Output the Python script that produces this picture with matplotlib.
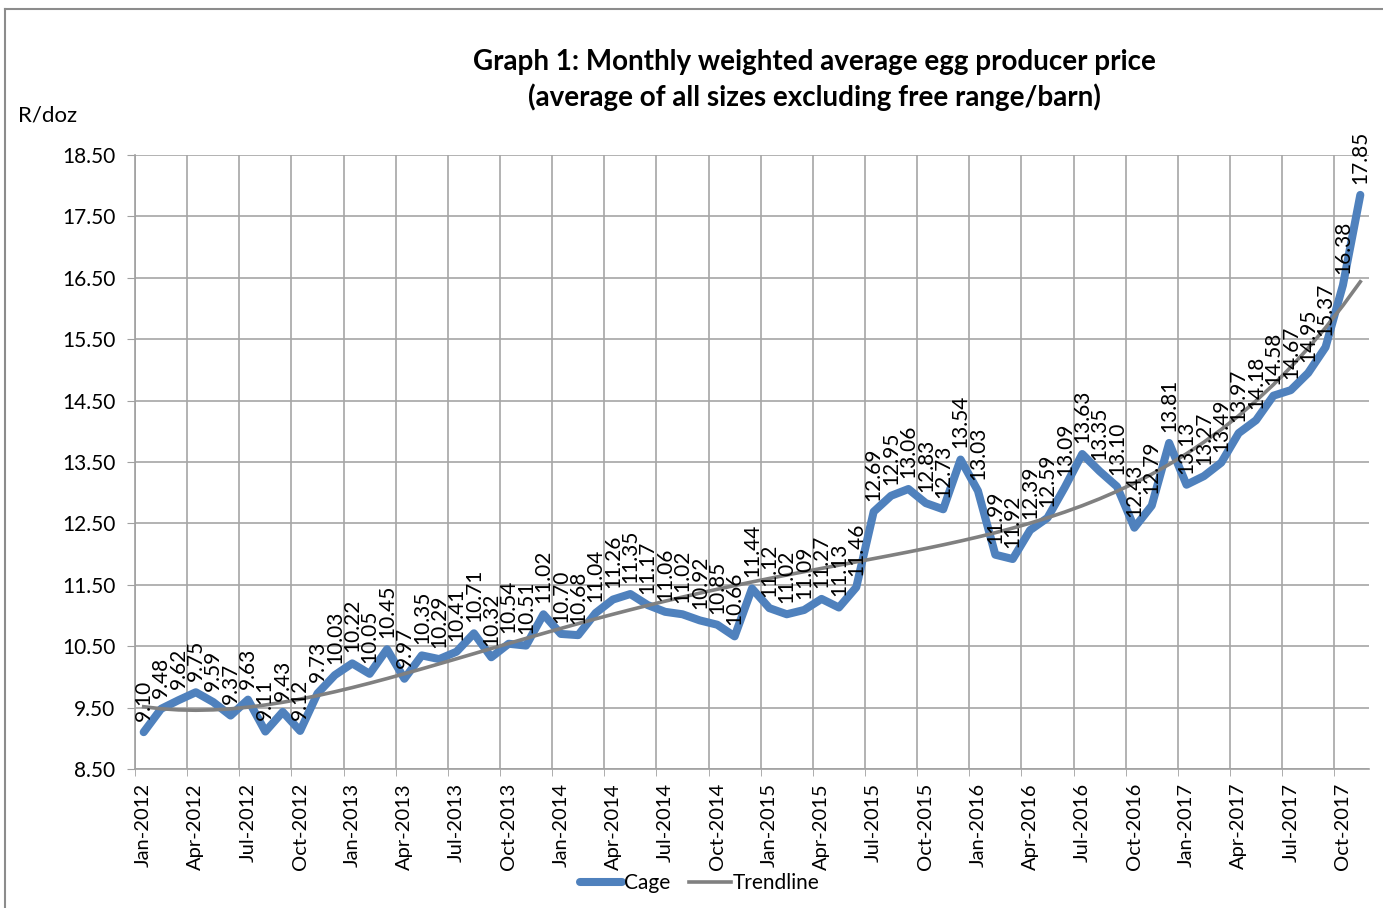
import numpy as np
import matplotlib
matplotlib.use("Agg")
import matplotlib.pyplot as plt
from matplotlib.lines import Line2D

plt.rcParams['font.family'] = ['Lato', 'DejaVu Sans']

months = ["Jan", "Feb", "Mar", "Apr", "May", "Jun", "Jul", "Aug", "Sep", "Oct", "Nov", "Dec"]
dates = [f"{m}-{y}" for y in range(2012, 2018) for m in months][:71]

cage = [
    9.10, 9.48, 9.62, 9.75, 9.59, 9.37, 9.63, 9.11, 9.43, 9.12, 9.73, 10.03,
    10.22, 10.05, 10.45, 9.97, 10.35, 10.29, 10.41, 10.71, 10.32, 10.54, 10.51, 11.02,
    10.70, 10.68, 11.04, 11.26, 11.35, 11.17, 11.06, 11.02, 10.92, 10.85, 10.66, 11.44,
    11.12, 11.02, 11.09, 11.27, 11.13, 11.46, 12.69, 12.95, 13.06, 12.83, 12.73, 13.54,
    13.03, 11.99, 11.92, 12.39, 12.59, 13.09, 13.63, 13.35, 13.10, 12.43, 12.79, 13.81,
    13.13, 13.27, 13.49, 13.97, 14.18, 14.58, 14.67, 14.95, 15.37, 16.38, 17.85,
]
y_ticks = [8.5, 9.5, 10.5, 11.5, 12.5, 13.5, 14.5, 15.5, 16.5, 17.5, 18.5]

W, H = 1383, 908
fig = plt.figure(figsize=(W / 100, H / 100), dpi=100)
ax = fig.add_axes([135 / W, 1 - 769 / H, (1369 - 135) / W, (769 - 155) / H])

x = np.arange(len(cage))
y = np.array(cage)

# polynomial trendline (order 4, computed from the data as Excel does)
xs = (x + 1) / len(cage)
coef = np.polyfit(xs, y, 4)
trend = np.polyval(coef, xs)

ax.plot(x, y, color='#4F81BD', lw=5.8, solid_joinstyle='round', solid_capstyle='round', zorder=3)
ax.plot(x, trend, color='#808080', lw=2.6, zorder=4)

for xi, yi in zip(x, y):
    ax.annotate(f"{yi:.2f}", (xi, yi), xytext=(0, 8), textcoords='offset points',
                rotation=90, ha='center', va='bottom', fontsize=15, color='black', zorder=5)

ax.set_xlim(-0.5, len(cage) - 0.5)
ax.set_ylim(8.5, 18.5)
ax.set_yticks(y_ticks)
ax.set_yticklabels([f"{v:.2f}" for v in y_ticks], fontsize=15)
major = list(range(0, len(cage), 3))
ax.set_xticks(major)
ax.set_xticklabels([dates[i] for i in major], rotation=90, fontsize=14.5)
ax.set_xticks([i - 0.5 for i in major], minor=True)
ax.tick_params(axis='x', which='major', length=0, pad=10)
ax.tick_params(axis='x', which='minor', length=5, color='#A0A0A0', direction='out')
ax.tick_params(axis='y', length=6, color='#A0A0A0', direction='out', pad=8)
ax.grid(axis='y', color='#A6A6A6', lw=1.2)
ax.grid(axis='x', which='minor', color='#A6A6A6', lw=1.2)
for s in ['top', 'right']:
    ax.spines[s].set_visible(False)
for s in ['left', 'bottom']:
    ax.spines[s].set_color('#A0A0A0')
    ax.spines[s].set_linewidth(1.2)
ax.set_axisbelow(True)

fig.text(814 / W, 1 - 62 / H, "Graph 1: Monthly weighted average egg producer price",
         ha='center', va='center', fontsize=20, fontweight='bold')
fig.text(814 / W, 1 - 97 / H, "(average of all sizes excluding free range/barn)",
         ha='center', va='center', fontsize=20, fontweight='bold')
fig.text(18 / W, 1 - 115 / H, "R/doz", ha='left', va='center', fontsize=16)

handles = [Line2D([], [], color='#4F81BD', lw=5.8, solid_capstyle='round'),
           Line2D([], [], color='#808080', lw=2.6)]
fig.legend(handles, ['Cage', 'Trendline'], loc='center', bbox_to_anchor=(700 / W, 1 - 883 / H),
           ncol=2, frameon=False, fontsize=15, handlelength=2.0, handletextpad=0.1, columnspacing=0.9)

# chart border
fig.add_artist(Line2D([5 / W, 5 / W], [0, 1 - 9 / H], color='#8C8C8C', lw=1.5, transform=fig.transFigure))
fig.add_artist(Line2D([5 / W, 1], [1 - 9 / H, 1 - 9 / H], color='#8C8C8C', lw=1.5, transform=fig.transFigure))

fig.savefig("out.png", dpi=100)
